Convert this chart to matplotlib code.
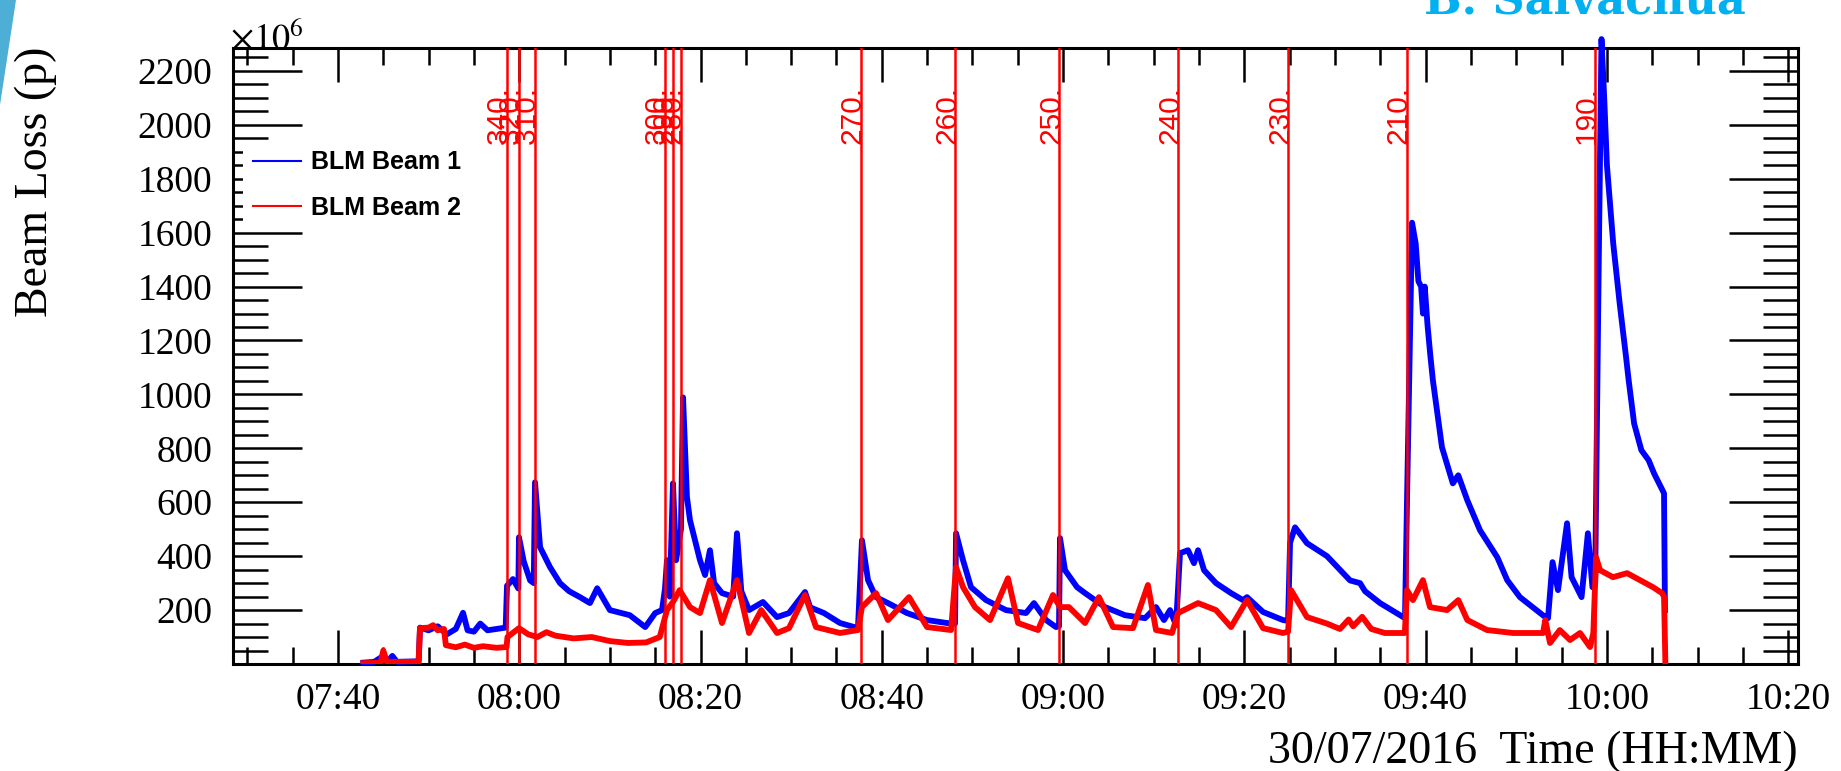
import matplotlib
matplotlib.use("Agg")
import matplotlib.pyplot as plt
import matplotlib.dates as mdates
from matplotlib.lines import Line2D
from matplotlib.patches import Polygon
from matplotlib.ticker import MultipleLocator, FuncFormatter
import pandas as pd

plt.rcParams['font.family'] = ['Liberation Serif', 'DejaVu Serif']
plt.rcParams['mathtext.fontset'] = 'stix'

t0 = pd.Timestamp("2016-07-30 07:00")

# (minutes after 07:00, loss in 1e6 protons)
beam1 = [(42.8, 5), (44.0, 8), (45.0, 30), (45.5, 10), (46.0, 30), (46.5, 8), (48.9, 10),
         (49.05, 135), (50.0, 125), (51.0, 140), (52.0, 110), (53.0, 130), (53.8, 190),
         (54.3, 125), (55.0, 120), (55.7, 150), (56.5, 125), (57.5, 130), (58.5, 135),
         (58.65, 290), (59.3, 315), (59.9, 280), (59.97, 470), (60.5, 380), (61.2, 310),
         (61.6, 300), (61.74, 674), (62.3, 433), (63.4, 359), (64.5, 300), (65.5, 270),
         (66.7, 248), (67.8, 226), (68.6, 281), (70.0, 200), (72.2, 181), (73.9, 137),
         (75.0, 189), (75.75, 200), (76.08, 280), (76.3, 385), (76.6, 250), (76.96, 670),
         (77.3, 385), (77.84, 500), (78.07, 989), (78.5, 620), (78.84, 533), (79.94, 385),
         (80.5, 330), (81.04, 422), (81.5, 300), (82.37, 263), (83.6, 250), (84.02, 485),
         (84.5, 270), (85.35, 200), (86.89, 230), (88.44, 174), (89.76, 189), (91.53, 267),
         (92.1, 210), (93.62, 189), (95.39, 152), (97.37, 133), (97.81, 459), (98.48, 311),
         (99.36, 248), (100.68, 226), (102.78, 189), (104.99, 163), (107.19, 152),
         (108.08, 150), (108.19, 485), (108.96, 385), (109.84, 285), (111.5, 237),
         (113.7, 200), (115.91, 189), (116.79, 226), (118.12, 163), (119.22, 137),
         (119.55, 140), (119.66, 467), (120.21, 348), (121.54, 285), (122.42, 263),
         (124.63, 211), (126.83, 181), (129.04, 170), (130.25, 211), (131.13, 163),
         (131.8, 200), (132.46, 144), (132.9, 411), (133.78, 422), (134.44, 374),
         (134.89, 422), (135.55, 348), (136.87, 300), (138.53, 263), (139.85, 237),
         (140.29, 248), (142.06, 193), (144.26, 163), (144.82, 160), (145.04, 450),
         (145.59, 507), (146.91, 448), (149.12, 400), (151.66, 310), (152.76, 300),
         (153.31, 270), (154.97, 226), (157.72, 170), (157.94, 600), (158.5, 1637),
         (158.9, 1560), (159.2, 1420), (159.5, 1400), (159.7, 1300), (159.9, 1400),
         (160.2, 1260), (160.5, 1150), (160.8, 1052), (161.8, 804), (163.0, 670),
         (163.6, 700), (164.6, 607), (166.0, 496), (167.9, 396), (169.0, 311),
         (170.4, 248), (171.8, 211), (173.2, 174), (173.5, 170), (174.0, 378),
         (174.6, 274), (175.6, 522), (176.1, 322), (177.2, 248), (177.9, 485),
         (178.4, 285), (178.7, 300), (179.1, 1500), (179.4, 2318), (179.7, 2100),
         (180.0, 1850), (180.7, 1558), (181.4, 1339), (182.1, 1141), (182.4, 1052),
         (183.0, 892), (183.8, 793), (184.6, 756), (185.2, 707), (186.3, 633), (186.4, 200)]

beam2 = [(42.8, 3), (44.7, 5), (45.0, 50), (45.4, 8), (48.9, 8), (49.05, 133), (50.0, 135),
         (50.5, 144), (51.0, 125), (51.7, 130), (51.9, 70), (53.0, 62), (54.0, 72),
         (55.0, 60), (56.0, 66), (57.5, 60), (58.6, 63), (58.7, 100), (59.97, 133),
         (61.0, 110), (62.0, 100), (63.0, 118), (64.0, 105), (66.0, 95), (68.0, 100),
         (70.0, 85), (72.0, 78), (74.0, 80), (75.5, 100), (76.3, 200), (76.96, 230),
         (77.7, 274), (78.84, 211), (79.94, 189), (81.04, 311), (82.37, 152), (84.02, 311),
         (85.35, 115), (86.7, 200), (88.44, 115), (89.76, 133), (91.53, 256), (92.74, 137),
         (95.39, 115), (97.37, 126), (97.81, 211), (99.36, 263), (100.68, 163), (103.0, 248),
         (104.99, 137), (107.64, 126), (108.19, 359), (108.96, 285), (110.28, 211),
         (111.94, 163), (113.92, 318), (115.03, 152), (117.23, 126), (118.89, 256),
         (119.66, 211), (120.65, 211), (122.42, 152), (123.96, 248), (125.51, 137),
         (127.71, 133), (129.36, 293), (130.25, 126), (132.02, 115), (132.68, 189),
         (134.89, 226), (136.87, 200), (138.53, 137), (140.29, 237), (142.06, 133),
         (144.26, 115), (144.82, 120), (145.15, 274), (146.91, 174), (149.1, 150),
         (150.55, 130), (151.5, 165), (152.0, 140), (153.0, 175), (154.0, 130),
         (155.5, 115), (157.7, 115), (157.94, 274), (158.6, 237), (159.7, 311),
         (160.48, 211), (162.36, 200), (163.6, 237), (164.6, 163), (166.77, 126),
         (169.64, 115), (172.95, 115), (173.2, 163), (173.72, 78), (174.8, 126),
         (175.93, 89), (177.03, 115), (178.14, 63), (178.5, 115), (178.8, 396),
         (179.24, 348), (180.67, 322), (182.22, 337), (183.65, 311), (185.08, 285),
         (186.08, 263), (186.3, 250), (186.45, 0)]

# collimator steps: time of each move (min after 07:00) and its setting
step_min = [58.65, 59.97, 61.74, 76.08, 76.96, 77.84, 97.70, 108.08, 119.55,
            132.68, 144.82, 157.94, 178.69]
step_label = ["340.", "320.", "310.", "300.", "290.", "280.", "270.", "260.", "250.",
              "240.", "230.", "210.", "190."]


def to_time(mins):
    return t0 + pd.to_timedelta(mins, unit="min")


fig = plt.figure(figsize=(18.41, 7.71), dpi=100)
ax = fig.add_axes([233 / 1841, 107 / 771, 1565 / 1841, 616 / 771])

m1, v1 = zip(*beam1)
m2, v2 = zip(*beam2)
ax.plot(to_time(list(m1)), v1, color="blue", lw=4.2, solid_joinstyle="round", zorder=3, clip_on=False)
ax.plot(to_time(list(m2)), v2, color="red", lw=4.2, solid_joinstyle="round", zorder=3.1)

for m, lab in zip(step_min, step_label):
    t = to_time(m)
    ax.axvline(t, color="red", lw=1.8, zorder=4)
    ax.text(t, 2145, lab, rotation=90, rotation_mode="anchor", ha="right", va="baseline",
            color="red", fontsize=21.5, family=["Liberation Sans", "DejaVu Sans"], zorder=4)

ax.set_xlim(to_time(28.42), to_time(201.08))
ax.set_ylim(0, 2285)

ax.xaxis.set_major_locator(mdates.MinuteLocator(byminute=[0, 20, 40]))
ax.xaxis.set_minor_locator(mdates.MinuteLocator(byminute=range(0, 60, 5)))
ax.xaxis.set_major_formatter(mdates.DateFormatter("%H:%M"))
ax.yaxis.set_major_locator(MultipleLocator(200))
ax.yaxis.set_minor_locator(MultipleLocator(50))
ax.yaxis.set_major_formatter(FuncFormatter(lambda v, p: "" if v == 0 else f"{v:.0f}"))

ax.tick_params(which="both", direction="in", top=True, right=True, width=1.8, color="black")
ax.tick_params(axis="x", which="major", length=24.5, labelsize=27, pad=13)
ax.tick_params(axis="x", which="minor", length=12.2)
ax.tick_params(axis="y", which="major", length=50, labelsize=27, pad=15)
ax.tick_params(axis="y", which="minor", length=25)
for s in ax.spines.values():
    s.set_linewidth(2.2)

ax.text(-0.002, 0.985, r"$\times10^{6}$", transform=ax.transAxes, ha="left", va="bottom", fontsize=26)

ax.set_xlabel("30/07/2016  Time (HH:MM)", fontsize=33, loc="right", labelpad=10)
fig.text(36 / 1841, 1 - 47 / 771, "Beam Loss (p)", rotation=90, ha="center", va="top", fontsize=33)

handles = [Line2D([], [], color="blue", lw=1.5), Line2D([], [], color="red", lw=1.5)]
ax.legend(handles, ["BLM Beam 1", "BLM Beam 2"], loc="upper left", bbox_to_anchor=(0.0064, 0.85),
          prop={"family": "Liberation Sans", "weight": "bold", "size": 18},
          frameon=True, facecolor="white", edgecolor="none", framealpha=1, fancybox=False,
          borderaxespad=0, handlelength=1.9, handletextpad=0.42, labelspacing=0.85)

fig.text(1424 / 1841, 1 - 14 / 771, "B. Salvachua", color="#00B0F0", fontsize=32,
         weight="bold", family="DejaVu Serif", ha="left", va="baseline")
fig.patches.append(Polygon([[0, 1], [16 / 1841, 1], [0, 1 - 105 / 771]], closed=True,
                           transform=fig.transFigure, facecolor="#4EAFD6", edgecolor="none"))

fig.savefig("out.png", dpi=100)
